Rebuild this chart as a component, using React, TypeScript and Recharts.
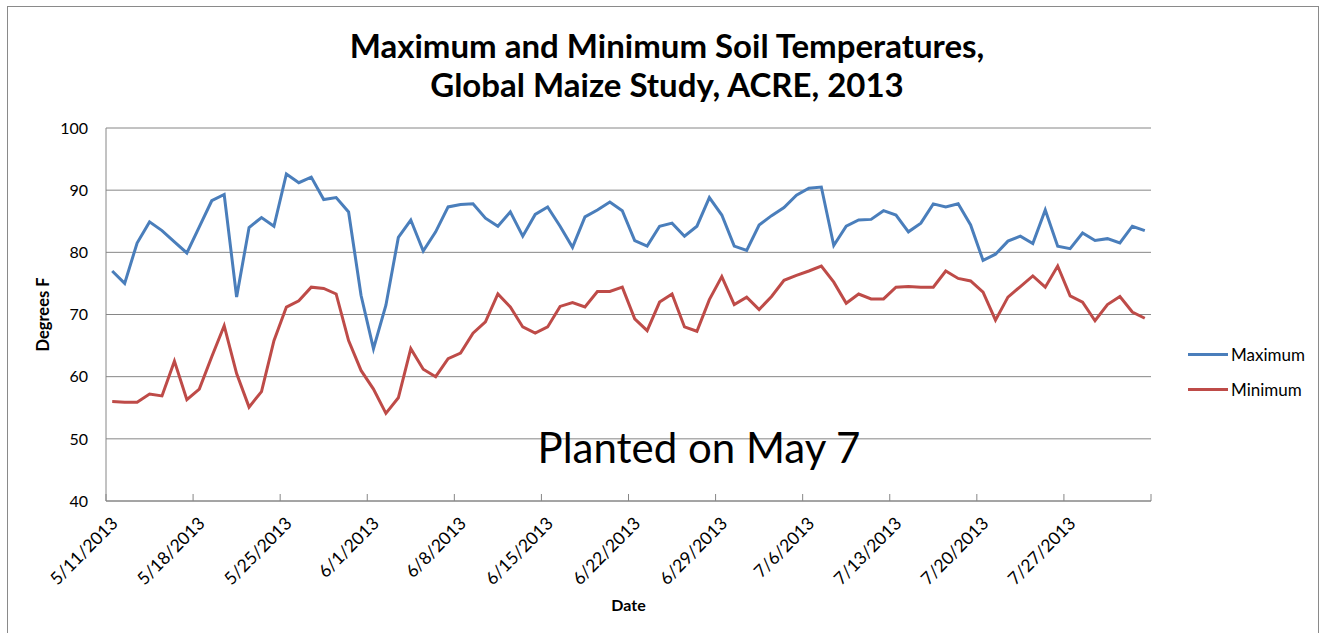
import React from 'react';
import { LineChart, Line, XAxis, YAxis, CartesianGrid, Legend } from 'recharts';

// daily soil temps, 5/11/2013 .. 8/2/2013 (84 days)
const MAXIMUM = [
  77.0, 75.0, 81.5, 84.9, 83.5, 81.7, 79.9, 84.1, 88.3, 89.3, 72.8, 84.0, 85.6, 84.2,
  92.6, 91.2, 92.1, 88.5, 88.8, 86.5, 73.1, 64.5, 71.5, 82.4, 85.2, 80.2, 83.3, 87.3,
  87.7, 87.8, 85.5, 84.2, 86.5, 82.6, 86.1, 87.3, 84.2, 80.8, 85.7, 86.8, 88.1, 86.7,
  81.9, 81.0, 84.2, 84.7, 82.6, 84.2, 88.8, 86.0, 81.0, 80.3, 84.4, 85.9, 87.2, 89.2,
  90.3, 90.5, 81.1, 84.2, 85.2, 85.3, 86.7, 86.0, 83.3, 84.7, 87.8, 87.3, 87.8, 84.4,
  78.7, 79.7, 81.8, 82.6, 81.4, 86.8, 81.0, 80.6, 83.1, 81.9, 82.2, 81.5, 84.2, 83.5,
];

const MINIMUM = [
  56.0, 55.9, 55.9, 57.2, 56.9, 62.5, 56.3, 58.0, 63.2, 68.2, 60.5, 55.1, 57.6, 65.8,
  71.2, 72.2, 74.4, 74.2, 73.3, 65.8, 61.0, 58.0, 54.1, 56.6, 64.5, 61.2, 60.0, 62.9,
  63.8, 67.0, 68.8, 73.3, 71.2, 68.0, 67.0, 68.0, 71.3, 71.9, 71.2, 73.7, 73.7, 74.4,
  69.3, 67.4, 72.0, 73.3, 68.0, 67.3, 72.4, 76.1, 71.6, 72.8, 70.8, 72.9, 75.5, 76.3,
  77.0, 77.8, 75.2, 71.8, 73.3, 72.5, 72.5, 74.4, 74.5, 74.4, 74.4, 77.0, 75.8, 75.4,
  73.6, 69.1, 72.8, 74.5, 76.2, 74.4, 77.8, 73.0, 72.0, 69.0, 71.6, 72.9, 70.4, 69.4,
];

const TICK_LABELS = [
  '5/11/2013', '5/18/2013', '5/25/2013', '6/1/2013', '6/8/2013', '6/15/2013',
  '6/22/2013', '6/29/2013', '7/6/2013', '7/13/2013', '7/20/2013', '7/27/2013',
];

// tick marks sit between day slots (Excel "between tick marks")
const TICK_BOUNDS = [-0.5, 6.5, 13.5, 20.5, 27.5, 34.5, 41.5, 48.5, 55.5, 62.5, 69.5, 76.5, 83.5];
const Y_TICKS = [40, 50, 60, 70, 80, 90, 100];

const chartData = MAXIMUM.map((v, i) => ({ day: i, maximum: v, minimum: MINIMUM[i] }));

const FONT = "Lato, 'Open Sans', sans-serif";
const AXIS_GRAY = '#868686';
const BLUE = '#4A7EBB';
const RED = '#BE4B48';

const W = 1325;
const H = 633;
const MARGIN = { top: 128, right: 174, bottom: 22, left: 40 };
const Y_WIDTH = 66;
const PLOT_W = W - MARGIN.left - MARGIN.right - Y_WIDTH;
const SLOT = PLOT_W / MAXIMUM.length;

const DateTick = ({ x, y, payload }: any) => {
  const idx = TICK_BOUNDS.indexOf(payload.value);
  const label = TICK_LABELS[idx];
  const ax = x + SLOT / 2 + 2;
  const ay = y + 19;
  return (
    <g>
      <line x1={x} x2={x} y1={y} y2={y - 7} stroke={AXIS_GRAY} strokeWidth={1} />
      {label && (
        <text
          x={ax}
          y={ay}
          textAnchor="end"
          dominantBaseline="central"
          transform={`rotate(-45, ${ax}, ${ay})`}
          fontSize={17.5}
          fontFamily={FONT}
          fill="#000"
        >
          {label}
        </text>
      )}
    </g>
  );
};

const LegendBox = () => (
  <div style={{ fontFamily: FONT, fontSize: 17, color: '#000' }}>
    {[
      { name: 'Maximum', color: BLUE },
      { name: 'Minimum', color: RED },
    ].map((item) => (
      <div key={item.name} style={{ display: 'flex', alignItems: 'center', height: 35 }}>
        <div style={{ width: 40, height: 3, background: item.color, marginRight: 3 }} />
        <span>{item.name}</span>
      </div>
    ))}
  </div>
);

export default function App() {
  return (
    <div
      style={{
        position: 'absolute',
        left: 0,
        top: 0,
        width: W,
        height: H,
        background: '#fff',
        overflow: 'hidden',
        fontFamily: FONT,
      }}
    >
      <div
        style={{
          position: 'absolute',
          left: 7,
          top: 6,
          width: 1310,
          height: 700,
          border: '1.5px solid #8a8a8a',
        }}
      />
      <LineChart width={W} height={H} data={chartData} margin={MARGIN}>
        <CartesianGrid vertical={false} stroke={AXIS_GRAY} strokeWidth={1} />
        <XAxis
          dataKey="day"
          type="number"
          domain={[-0.5, 83.5]}
          ticks={TICK_BOUNDS}
          interval={0}
          tick={<DateTick />}
          tickLine={false}
          tickSize={0}
          tickMargin={0}
          height={110}
          axisLine={{ stroke: AXIS_GRAY }}
          label={{
            value: 'Date',
            position: 'insideBottom',
            offset: 0,
            style: { fontFamily: FONT, fontSize: 16, fontWeight: 700, fill: '#000' },
          }}
        />
        <YAxis
          domain={[40, 100]}
          ticks={Y_TICKS}
          interval={0}
          width={Y_WIDTH}
          tickLine={false}
          tickSize={0}
          tickMargin={18}
          axisLine={{ stroke: AXIS_GRAY }}
          tick={{ fontFamily: FONT, fontSize: 16, fill: '#000' }}
          label={{
            value: 'Degrees  F',
            angle: -90,
            position: 'insideLeft',
            offset: 3,
            style: { fontFamily: FONT, fontSize: 16.5, fontWeight: 700, fill: '#000', textAnchor: 'middle', whiteSpace: 'pre' },
          }}
        />
        <Legend
          layout="vertical"
          align="center"
          verticalAlign="middle"
          content={<LegendBox />}
          wrapperStyle={{ left: 1188, top: 337, width: 130 }}
        />
        <Line
          type="linear"
          dataKey="maximum"
          name="Maximum"
          stroke={BLUE}
          strokeWidth={3}
          dot={false}
          isAnimationActive={false}
        />
        <Line
          type="linear"
          dataKey="minimum"
          name="Minimum"
          stroke={RED}
          strokeWidth={3}
          dot={false}
          isAnimationActive={false}
        />
      </LineChart>
      <div
        style={{
          position: 'absolute',
          left: 267,
          top: 26,
          width: 800,
          textAlign: 'center',
          fontSize: 33,
          fontWeight: 700,
          lineHeight: '39px',
          color: '#000',
        }}
      >
        <div>Maximum and Minimum Soil Temperatures,</div>
        <div>Global Maize Study, ACRE, 2013</div>
      </div>
      <div
        style={{
          position: 'absolute',
          left: 399,
          top: 427,
          width: 600,
          textAlign: 'center',
          fontSize: 42,
          lineHeight: '40px',
          color: '#000',
        }}
      >
        Planted on May 7
      </div>
    </div>
  );
}
